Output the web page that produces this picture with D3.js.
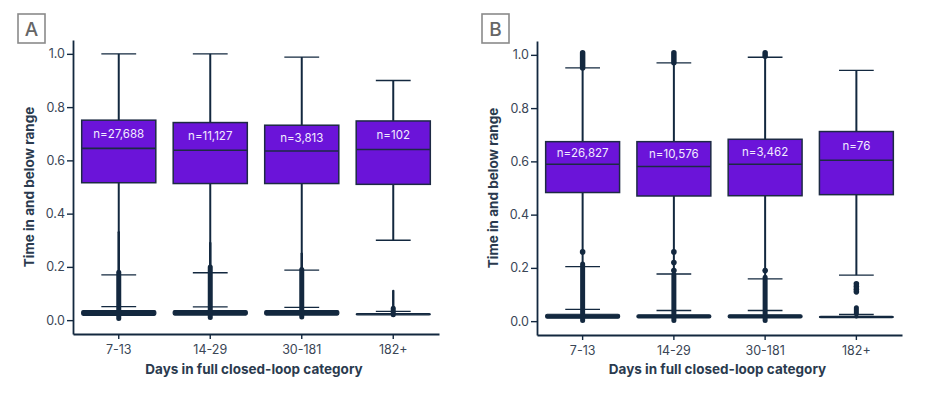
<!DOCTYPE html>
<html>
<head>
<meta charset="utf-8">
<script src="https://cdn.jsdelivr.net/npm/d3@7"></script>
<style>
  body { margin: 0; background: #fff; }
  text { font-family: Inter, "Noto Sans", sans-serif; }
</style>
</head>
<body>
<script>
// Categories shared by both panels
const categories = ["7-13", "14-29", "30-181", "182+"];
const yTicks = [0, 0.2, 0.4, 0.6, 0.8, 1.0];

// Panel A: n labels and boxes [lowWhisker, q1, median, q3, highWhisker]
const nLabelsA = ["n=27,688", "n=11,127", "n=3,813", "n=102"];
const rangeBoxA = [
  [0.170, 0.516, 0.645, 0.751, 1.000],
  [0.178, 0.513, 0.638, 0.742, 1.000],
  [0.188, 0.513, 0.635, 0.732, 0.988],
  [0.300, 0.510, 0.641, 0.748, 0.900]
];
const belowBoxA = [
  [0.006, 0.018, 0.027, 0.036, 0.051],
  [0.008, 0.019, 0.028, 0.036, 0.050],
  [0.010, 0.019, 0.028, 0.036, 0.048],
  [0.018, 0.020, 0.022, 0.025, 0.033]
];
// outlier stacks drawn as dense (thick) and sparse (thin) runs
const denseA = [[0.006, 0.18], [0.010, 0.20], [0.012, 0.19], [0.020, 0.045]];
const sparseA = [[0.18, 0.33], [0.20, 0.29], [0.19, 0.25], [0.045, 0.11]];
const highA = [null, null, null, null];
const pointsA = [[], [], [], []];

// Panel B
const nLabelsB = ["n=26,827", "n=10,576", "n=3,462", "n=76"];
const rangeBoxB = [
  [0.205, 0.483, 0.589, 0.674, 0.951],
  [0.177, 0.470, 0.581, 0.674, 0.970],
  [0.159, 0.471, 0.589, 0.683, 0.991],
  [0.173, 0.475, 0.604, 0.712, 0.942]
];
const belowBoxB = [
  [0.003, 0.011, 0.018, 0.026, 0.044],
  [0.003, 0.012, 0.017, 0.024, 0.040],
  [0.003, 0.012, 0.017, 0.024, 0.040],
  [0.010, 0.013, 0.015, 0.018, 0.025]
];
const denseB = [[0.002, 0.215], [0.002, 0.175], [0.002, 0.165], [0.028, 0.050]];
const sparseB = [null, null, null, null];
const highB = [[0.951, 1.008], [0.970, 1.008], [0.995, 1.008], null];
const pointsB = [[0.26], [0.19, 0.22, 0.26], [0.19], [0.11, 0.12, 0.13, 0.14]];

const purple = "#6b14d9";
const navy = "#13283f";
const textCol = "#3a4656";

let width = 940, height = 395;

let svg = d3.select("body")
  .append("svg")
  .attr("width", width)
  .attr("height", height);

function drawPanel(opt) {
  let g = svg.append("g");

  let x = d3.scaleBand()
    .domain(categories)
    .range([opt.left, opt.right])
    .padding(0);

  let y = d3.scaleLinear()
    .domain([-0.052, 1.052])
    .range([opt.bottom, opt.top]);

  let boxW = x.bandwidth() * 0.81;
  let capW = boxW * 0.47;
  let cx = d => x(d) + x.bandwidth() / 2;

  // panel letter
  g.append("rect")
    .attr("x", opt.left - 55).attr("y", 14)
    .attr("width", 27).attr("height", 29)
    .attr("fill", "none")
    .attr("stroke", "#8a8a8a")
    .attr("stroke-width", 1.6);
  g.append("text")
    .attr("x", opt.left - 41.5).attr("y", 35.5)
    .attr("text-anchor", "middle")
    .attr("font-size", 19)
    .attr("font-weight", 500)
    .attr("fill", "#666")
    .text(opt.letter);

  // axes
  let yAxis = g.append("g")
    .attr("transform", `translate(${opt.left},0)`)
    .call(d3.axisLeft(y).tickValues(yTicks).tickFormat(d3.format(".1f")).tickSize(6).tickSizeOuter(0).tickPadding(2));
  let xAxis = g.append("g")
    .attr("transform", `translate(0,${opt.bottom})`)
    .call(d3.axisBottom(x).tickSize(5).tickSizeOuter(0).tickPadding(6));
  [yAxis, xAxis].forEach(a => {
    a.select(".domain").attr("stroke", navy).attr("stroke-width", 1.8);
    a.selectAll(".tick line").attr("stroke", navy).attr("stroke-width", 1.4);
    a.selectAll(".tick text").attr("fill", textCol).attr("font-size", 12.5).attr("font-family", "Inter, sans-serif");
  });

  categories.forEach((c, i) => {
    let b = opt.rangeBox[i];
    let xc = cx(c);

    // whisker stems
    g.append("line")
      .attr("x1", xc).attr("x2", xc)
      .attr("y1", y(b[4])).attr("y2", y(b[3]))
      .attr("stroke", navy).attr("stroke-width", 2);
    g.append("line")
      .attr("x1", xc).attr("x2", xc)
      .attr("y1", y(b[1])).attr("y2", y(b[0]))
      .attr("stroke", navy).attr("stroke-width", 2);
    // caps
    [b[0], b[4]].forEach(v => {
      g.append("line")
        .attr("x1", xc - capW / 2).attr("x2", xc + capW / 2)
        .attr("y1", y(v)).attr("y2", y(v))
        .attr("stroke", navy).attr("stroke-width", 1.3);
    });
    // box
    g.append("rect")
      .attr("x", xc - boxW / 2)
      .attr("y", y(b[3]))
      .attr("width", boxW)
      .attr("height", y(b[1]) - y(b[3]))
      .attr("fill", purple)
      .attr("stroke", "#1d2a44")
      .attr("stroke-width", 1.5);
    g.append("line")
      .attr("x1", xc - boxW / 2).attr("x2", xc + boxW / 2)
      .attr("y1", y(b[2])).attr("y2", y(b[2]))
      .attr("stroke", "#1d2a44").attr("stroke-width", 1.6);
    // n label between q3 and median
    g.append("text")
      .attr("x", xc)
      .attr("y", (y(b[3]) + y(b[2])) / 2)
      .attr("dy", "0.35em")
      .attr("text-anchor", "middle")
      .attr("font-size", 11.5)
      .attr("fill", "#f2ecff")
      .text(opt.nLabels[i]);

    // time below range box
    let d = opt.belowBox[i];
    g.append("line")
      .attr("x1", xc - capW / 2).attr("x2", xc + capW / 2)
      .attr("y1", y(d[4])).attr("y2", y(d[4]))
      .attr("stroke", navy).attr("stroke-width", 1.3);
    g.append("line")
      .attr("x1", xc).attr("x2", xc)
      .attr("y1", y(d[4])).attr("y2", y(d[0]))
      .attr("stroke", navy).attr("stroke-width", 2);
    g.append("rect")
      .attr("x", xc - boxW / 2)
      .attr("y", y(d[3]))
      .attr("width", boxW)
      .attr("height", Math.max(1, y(d[1]) - y(d[3])))
      .attr("fill", navy)
      .attr("stroke", navy)
      .attr("stroke-width", 1.2)
      .attr("rx", 1.5);

    // outliers
    let dense = opt.dense[i];
    if (dense) {
      g.append("line")
        .attr("x1", xc).attr("x2", xc)
        .attr("y1", y(dense[0])).attr("y2", y(dense[1]))
        .attr("stroke", navy).attr("stroke-width", 5)
        .attr("stroke-linecap", "round");
    }
    let sparse = opt.sparse[i];
    if (sparse) {
      g.append("line")
        .attr("x1", xc).attr("x2", xc)
        .attr("y1", y(sparse[0])).attr("y2", y(sparse[1]))
        .attr("stroke", navy).attr("stroke-width", 2.4)
        .attr("stroke-linecap", "round");
    }
    let high = opt.high[i];
    if (high) {
      g.append("line")
        .attr("x1", xc).attr("x2", xc)
        .attr("y1", y(high[0])).attr("y2", y(high[1]))
        .attr("stroke", navy).attr("stroke-width", 5.5)
        .attr("stroke-linecap", "round");
    }
    g.selectAll(null)
      .data(opt.points[i])
      .enter().append("circle")
      .attr("cx", xc)
      .attr("cy", v => y(v))
      .attr("r", 2.8)
      .attr("fill", navy);
  });

  // axis titles
  g.append("text")
    .attr("x", (opt.left + opt.right) / 2 - 2)
    .attr("y", 374)
    .attr("text-anchor", "middle")
    .attr("font-size", 13.5)
    .attr("font-weight", 700)
    .attr("fill", "#2a3a4e")
    .text("Days in full closed-loop category");

  g.append("text")
    .attr("transform", `translate(${opt.left - 39},${(opt.top + opt.bottom) / 2}) rotate(-90)`)
    .attr("text-anchor", "middle")
    .attr("font-size", 13.5)
    .attr("font-weight", 700)
    .attr("fill", "#2a3a4e")
    .text("Time in and below range");
}

drawPanel({
  letter: "A", left: 73, right: 439, top: 40, bottom: 334,
  nLabels: nLabelsA, rangeBox: rangeBoxA, belowBox: belowBoxA,
  dense: denseA, sparse: sparseA, high: highA, points: pointsA
});

drawPanel({
  letter: "B", left: 537, right: 902, top: 41, bottom: 335,
  nLabels: nLabelsB, rangeBox: rangeBoxB, belowBox: belowBoxB,
  dense: denseB, sparse: sparseB, high: highB, points: pointsB
});
</script>
</body>
</html>
